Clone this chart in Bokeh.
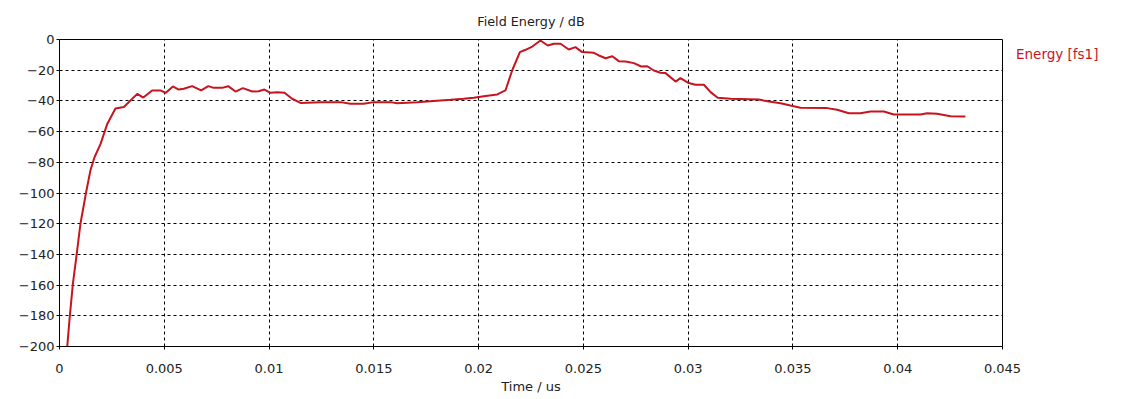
from bokeh.plotting import figure
from bokeh.models import FixedTicker, ColumnDataSource, Legend, LegendItem
from bokeh.embed import file_html
from bokeh.resources import INLINE

# ---- data ----
time_us = [0.00037, 0.00048, 0.00064, 0.00081, 0.0010, 0.00127, 0.00148, 0.00167, 0.00196, 0.00228,
           0.00267, 0.00307, 0.00371, 0.0040, 0.00442, 0.00482, 0.00506, 0.00541, 0.00569, 0.00593,
           0.00633, 0.00676, 0.0071, 0.00736, 0.00776, 0.00805, 0.0084, 0.00875, 0.0092, 0.0095,
           0.00978, 0.01007, 0.01039, 0.01074, 0.0111, 0.0115, 0.01245, 0.01341, 0.01389, 0.01452,
           0.015, 0.0158, 0.01611, 0.01707, 0.0177, 0.01866, 0.01929, 0.01977, 0.02025, 0.02089,
           0.02128, 0.0216, 0.02197, 0.02224, 0.02256, 0.02295, 0.0233, 0.02359, 0.02391, 0.0243,
           0.02462, 0.02494, 0.0255, 0.02574, 0.02606, 0.02638, 0.02669, 0.02701, 0.02741, 0.02776,
           0.02805, 0.02836, 0.02868, 0.02892, 0.0294, 0.02963, 0.03003, 0.03035, 0.03075, 0.03107,
           0.03141, 0.03202, 0.03337, 0.03385, 0.03441, 0.03488, 0.03536, 0.03663, 0.03711, 0.03767,
           0.03822, 0.0387, 0.03934, 0.03981, 0.04109, 0.0414, 0.04188, 0.04252, 0.04323]
energy_db = [-200, -182, -159, -141, -120, -99.5, -85, -76.7, -68, -55,
             -45, -44, -35.4, -37.8, -33.2, -33.2, -34.8, -30.6, -32.6, -32.1,
             -30.4, -33.2, -30.4, -31.5, -31.5, -30.4, -33.9, -31.7, -33.9, -33.7,
             -32.6, -34.7, -34.3, -34.7, -38.6, -41.3, -40.8, -40.8, -41.9, -41.9,
             -40.8, -40.8, -41.5, -40.8, -40.2, -39.3, -38.6, -38.0, -36.9, -35.8,
             -33.2, -20.2, -8.2, -6.7, -4.6, -0.65, -3.9, -2.8, -2.8, -6.5,
             -5.0, -8.2, -8.7, -10.4, -12.2, -10.9, -14.1, -14.3, -15.4, -17.6,
             -17.4, -20.2, -21.7, -21.9, -27.4, -25.2, -28.4, -29.5, -29.5, -34.3,
             -38.0, -38.6, -39.1, -40.4, -41.5, -43.0, -44.5, -44.7, -45.8, -48.0,
             -48.0, -46.9, -46.9, -48.9, -48.9, -48.0, -48.4, -50.0, -50.2]

x_ticks = [0, 0.005, 0.01, 0.015, 0.02, 0.025, 0.03, 0.035, 0.04, 0.045]
x_tick_labels = ["0", "0.005", "0.01", "0.015", "0.02", "0.025", "0.03", "0.035", "0.04", "0.045"]
y_ticks = [0, -20, -40, -60, -80, -100, -120, -140, -160, -180, -200]

title_text = "Field Energy / dB"
x_label = "Time / us"
series_name = "Energy [fs1]"

FONT = "DejaVu Sans"
RED = "#c8141f"

p = figure(frame_width=943, frame_height=307, x_range=(0, 0.045), y_range=(-200, 0),
           output_backend="svg", toolbar_location=None,
           min_border_left=59, min_border_right=119, min_border_top=39, min_border_bottom=51)

p.title.text = title_text
p.title.align = "center"
p.title.text_font = FONT
p.title.text_font_size = "12.75px"
p.title.text_font_style = "normal"
p.title.text_color = "#222222"
p.title.standoff = 21

p.outline_line_color = "black"
p.outline_line_width = 1
p.outline_line_alpha = 1
p.background_fill_color = "white"
p.border_fill_color = "white"

for ax in (p.xaxis[0], p.yaxis[0]):
    ax.axis_line_color = "black"
    ax.major_tick_line_color = "black"
    ax.major_tick_in = 0
    ax.major_tick_out = 3
    ax.minor_tick_line_color = None
    ax.major_label_text_font = FONT
    ax.major_label_text_font_size = "13px"
    ax.major_label_text_color = "#222222"

p.xaxis[0].ticker = FixedTicker(ticks=x_ticks)
p.xaxis[0].major_label_overrides = {t: s for t, s in zip(x_ticks, x_tick_labels)}
p.xaxis[0].major_label_standoff = 14
p.xaxis[0].axis_label = x_label
p.xaxis[0].axis_label_text_font = FONT
p.xaxis[0].axis_label_text_font_size = "13px"
p.xaxis[0].axis_label_text_font_style = "normal"
p.xaxis[0].axis_label_text_color = "#222222"
p.xaxis[0].axis_label_standoff = 3

p.yaxis[0].ticker = FixedTicker(ticks=y_ticks)
p.yaxis[0].major_label_standoff = 2

for g in (p.xgrid[0], p.ygrid[0]):
    g.grid_line_color = "black"
    g.grid_line_dash = "3 3"
    g.grid_line_width = 1
    g.grid_line_alpha = 1

src = ColumnDataSource(dict(t=time_us, e=energy_db))
r = p.line("t", "e", source=src, line_color=RED, line_width=2)

legend = Legend(items=[LegendItem(label=series_name, renderers=[r])],
                location="top_left", orientation="vertical",
                glyph_width=0, glyph_height=20, label_standoff=9, label_height=20,
                padding=0, margin=5, spacing=0,
                border_line_color=None, background_fill_alpha=0,
                label_text_color=RED, label_text_font=FONT, label_text_font_size="13.5px")
p.add_layout(legend, "right")

open("out.html", "w").write(file_html(p, INLINE))
